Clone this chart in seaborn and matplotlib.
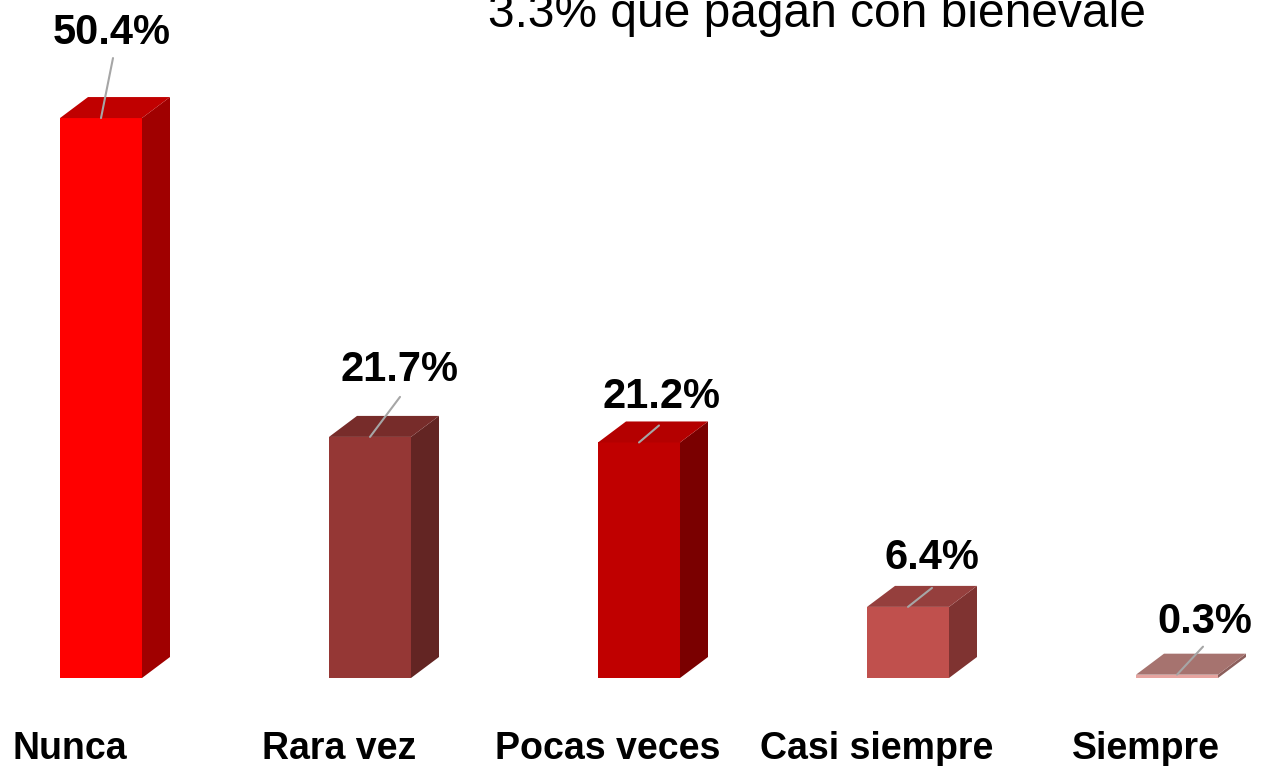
import matplotlib
matplotlib.use('Agg')
import matplotlib.pyplot as plt
from matplotlib.patches import Polygon
import seaborn as sns

# data
categories = ['Nunca', 'Rara vez', 'Pocas veces', 'Casi siempre', 'Siempre']
percent = [50.4, 21.7, 21.2, 6.4, 0.3]
title_text = '3.3% que pagan con bienevale'

# colours: front, top, side faces
front_colors = ['#FF0000', '#953735', '#C00000', '#C0504D', '#E6A4A0']
top_colors = ['#C00000', '#772C2A', '#B40000', '#953F3D', '#A6736F']
side_colors = ['#A00000', '#632523', '#7A0000', '#7F3331', '#8B5E5B']

# label / leader line offsets in pixels from the front-top centre
label_offsets = [(11, 85), (30, 67), (22, 45), (24, 49), (28, 53)]
line_offsets = [(12, 60), (30, 40), (20, 17), (24, 19), (26, 28)]

sns.set_theme(style='white')
plt.rcParams['font.family'] = ['Liberation Sans', 'DejaVu Sans']

fig = plt.figure(figsize=(12.65, 7.66), dpi=100)
ax = fig.add_axes([0, 88 / 766, 1, 678 / 766])

bar_w = 82 / 269
sns.barplot(x=categories, y=percent, hue=categories, palette=front_colors,
            width=bar_w, legend=False, ax=ax, saturation=1, linewidth=0)

ax.set_xlim(-101 / 269, (1265 - 101) / 269)
ax.set_ylim(0, 678 / 11.11)

# 3D depth
dx = 28 / 269
dy = 21 / 11.11
for i, v in enumerate(percent):
    x0, x1 = i - bar_w / 2, i + bar_w / 2
    top = Polygon([(x0, v), (x1, v), (x1 + dx, v + dy), (x0 + dx, v + dy)],
                  closed=True, facecolor=top_colors[i], edgecolor='none', clip_on=False)
    side = Polygon([(x1, 0), (x1 + dx, dy), (x1 + dx, v + dy), (x1, v)],
                   closed=True, facecolor=side_colors[i], edgecolor='none', clip_on=False)
    ax.add_patch(side)
    ax.add_patch(top)

    lx, ly = line_offsets[i]
    ax.annotate('', xy=(i, v), xytext=(lx, ly), textcoords='offset pixels',
                arrowprops=dict(arrowstyle='-', color='#A6A6A6', lw=1.5,
                                shrinkA=0, shrinkB=0), annotation_clip=False)
    tx, ty = label_offsets[i]
    ax.annotate(f'{v:.1f}%', xy=(i, v), xytext=(tx, ty), textcoords='offset pixels',
                ha='center', va='center', fontsize=30, fontweight='bold',
                color='black', annotation_clip=False)

# title (partly cut at the top like the original)
ax.text(817 / 269 - 101 / 269, (678 - 27) / 11.11, title_text,
        ha='center', va='baseline', fontsize=34.5, color='black')

ax.set_xticks([i - 31 / 269 for i in range(len(categories))])
ax.set_xticklabels(categories, fontsize=27, fontweight='bold', color='black')
ax.tick_params(axis='x', length=0, pad=38)
ax.set_yticks([])
ax.set_xlabel('')
ax.set_ylabel('')
sns.despine(ax=ax, left=True, bottom=True)

fig.savefig('out.png', dpi=100, facecolor='white')
